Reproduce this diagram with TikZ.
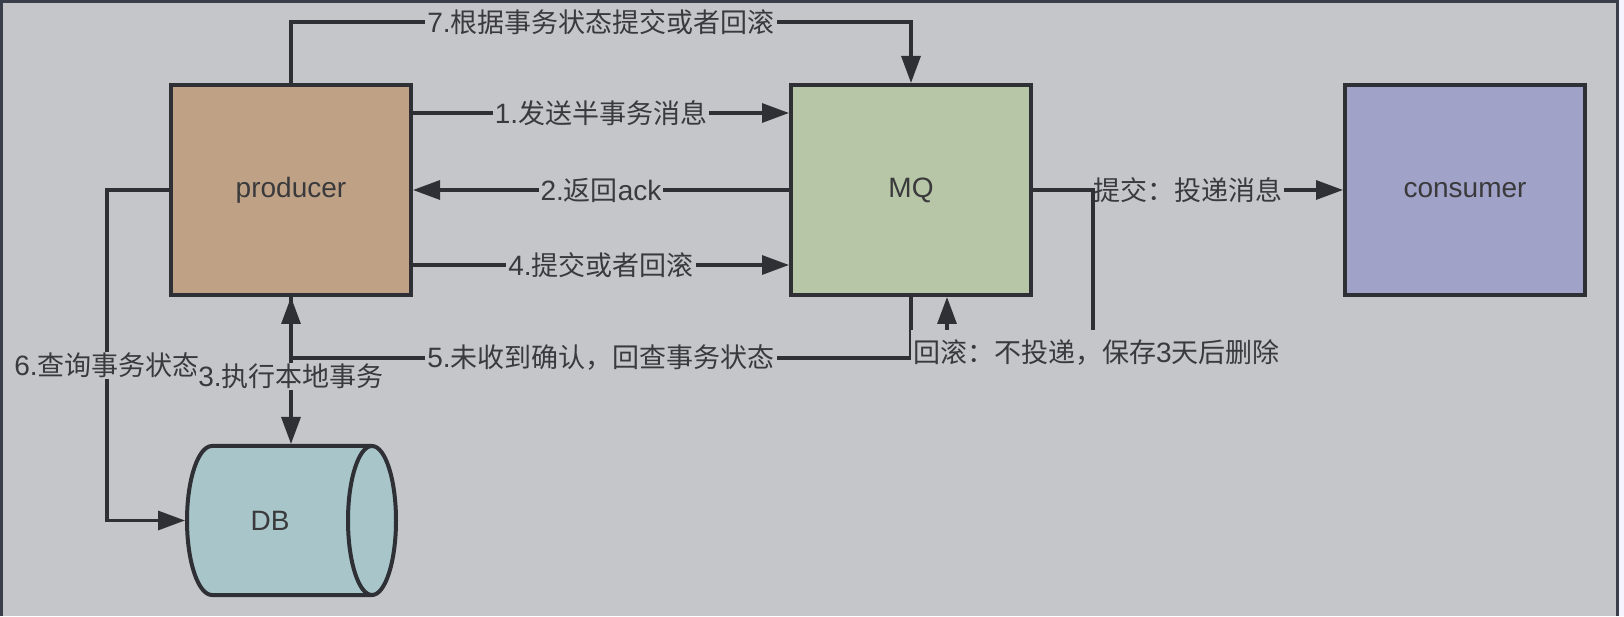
\documentclass[tikz,border=0pt]{standalone}
\usepackage{fontspec}
\setmainfont{Liberation Sans}
\newfontfamily\cjk[Scale=0.964]{Noto Sans CJK SC}
\newcommand\zh[1]{{\cjk #1}}
\usetikzlibrary{arrows.meta}
\definecolor{bg}{HTML}{C5C6CA}
\definecolor{framec}{HTML}{3A3D4A}
\definecolor{linec}{HTML}{2F3035}
\definecolor{txt}{HTML}{3A3A3C}
\definecolor{prodc}{HTML}{BFA286}
\definecolor{mqc}{HTML}{B8C6A8}
\definecolor{consc}{HTML}{A1A2C8}
\definecolor{dbc}{HTML}{A8C6CA}
\tikzset{
  box/.style={draw=linec, line width=4pt, minimum width=240pt, minimum height=210pt, inner sep=0pt, text=txt, font=\fontsize{28}{32}\selectfont},
  conn/.style={draw=linec, line width=3.2pt},
  arr/.style={conn, -{Triangle[length=27pt,width=19pt]}},
  lbl/.style={fill=bg, inner xsep=2pt, inner ysep=1pt, text=txt, font=\fontsize{28}{32}\selectfont},
}
\begin{document}
\begin{tikzpicture}[x=1pt,y=1pt]
\useasboundingbox (0,0) rectangle (1624,616);
\fill[white!96!blue] (0,0) rectangle (1624,616);
\fill[bg] (0,0) rectangle (1619,616);
\draw[framec, line width=3pt] (1.5,0) -- (1.5,614.5) -- (1617.5,614.5) -- (1617.5,0);

% nodes
\node[box, fill=prodc] (producer) at (291,426) {producer};
\node[box, fill=mqc] (mq) at (911,426) {MQ};
\node[box, fill=consc] (consumer) at (1465,426) {consumer};

% DB cylinder
\filldraw[fill=dbc, draw=linec, line width=4pt] (212,170) -- (372,170)
  arc[start angle=90, end angle=-90, x radius=24, y radius=74.5] -- (212,21)
  arc[start angle=270, end angle=90, x radius=25, y radius=74.5] -- cycle;
\draw[linec, line width=4pt] (372,170) arc[start angle=90, end angle=270, x radius=24, y radius=74.5];
\node[text=txt, font=\fontsize{28}{32}\selectfont] (db) at (270,95.5) {DB};
\coordinate (dbtop) at (291,172);
\coordinate (dbleft) at (185,95.5);

% connectors
\draw[arr] (producer.north) -- (producer.north |- 0,594)
  -- node[lbl] {7.\zh{根据事务状态提交或者回滚}} (mq.north |- 0,594) -- (mq.north);
\draw[arr] (producer.east |- 0,503) -- node[lbl] {1.\zh{发送半事务消息}} (mq.west |- 0,503);
\draw[arr] (mq.west) -- node[lbl] {2.\zh{返回}ack} (producer.east);
\draw[arr] (producer.east |- 0,351) -- node[lbl] {4.\zh{提交或者回滚}} (mq.west |- 0,351);
\draw[arr] (mq.east) -- node[lbl] {\zh{提交：投递消息}} (consumer.west);
\draw[arr] (mq.east) -- (1093,426) -- (1093,263) -- (947,263) -- (947,0 |- mq.south);
\draw[arr] (mq.south) -- (911,258) -- node[lbl] {5.\zh{未收到确认，回查事务状态}} (291,258) -- (producer.south);
\draw[arr] (producer.west) -- (107,426) -- node[lbl, pos=0.53] {6.\zh{查询事务状态}} (107,95.5) -- (dbleft);
\draw[arr] (producer.south) -- node[lbl, pos=0.54] {3.\zh{执行本地事务}} (dbtop);
\node[lbl, minimum height=46pt] (rb) at (1096.5,263) {\zh{回滚：不投递，保存}3\zh{天后删除}};
\end{tikzpicture}
\end{document}
